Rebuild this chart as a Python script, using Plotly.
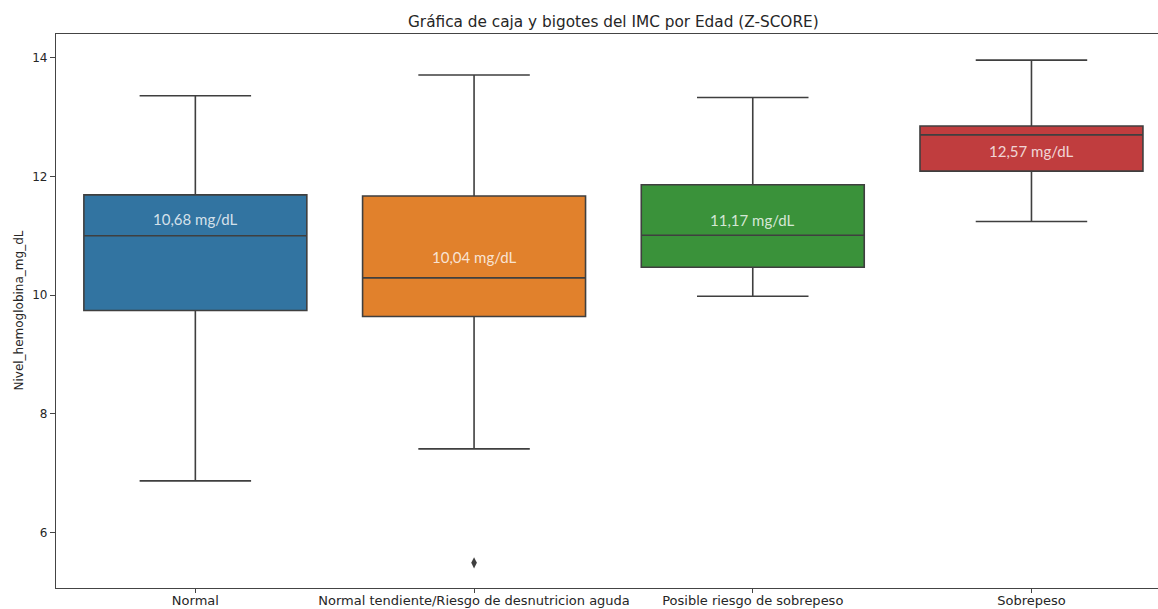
import plotly.graph_objects as go

categories = ["Normal", "Normal tendiente/Riesgo de desnutricion aguda",
              "Posible riesgo de sobrepeso", "Sobrepeso"]
lower_whisker = [6.87, 7.41, 9.98, 11.24]
q1 = [9.74, 9.64, 10.47, 12.09]
median = [11.00, 10.29, 11.01, 12.70]
q3 = [11.69, 11.67, 11.86, 12.85]
upper_whisker = [13.36, 13.71, 13.33, 13.96]
means = [10.68, 10.04, 11.17, 12.57]
mean_labels = ["10,68 mg/dL", "10,04 mg/dL", "11,17 mg/dL", "12,57 mg/dL"]
label_y = [11.28, 10.65, 11.26, 12.43]
outlier_cat = ["Normal tendiente/Riesgo de desnutricion aguda"]
outlier_val = [5.49]
colors = ["#3274a1", "#e1812c", "#3a923a", "#c03d3e"]

line_col = "#3f3f3f"

fig = go.Figure()
for i, c in enumerate(categories):
    fig.add_trace(go.Box(
        x=[c], q1=[q1[i]], median=[median[i]], q3=[q3[i]],
        lowerfence=[lower_whisker[i]], upperfence=[upper_whisker[i]],
        fillcolor=colors[i], line=dict(color=line_col, width=1.6),
        width=0.8, whiskerwidth=0.5, boxpoints=False, showlegend=False,
        hoverinfo="skip",
    ))

fig.add_trace(go.Scatter(
    x=outlier_cat, y=outlier_val, mode="markers",
    marker=dict(symbol="diamond-tall", size=8, color=line_col),
    showlegend=False, hoverinfo="skip",
))

for i, c in enumerate(categories):
    fig.add_annotation(
        x=c, y=label_y[i], xref="x", yref="y", text=mean_labels[i],
        showarrow=False, font=dict(family="Lato", size=15, color="rgba(255,255,255,0.8)"),
        xanchor="center", yanchor="middle",
    )

# title
fig.add_annotation(
    x=1.5, y=1, xref="x", yref="paper", yshift=12,
    text="Gráfica de caja y bigotes del IMC por Edad (Z-SCORE)",
    showarrow=False, xanchor="center", yanchor="middle",
    font=dict(family="DejaVu Sans", size=15.3, color="#262626"),
)
# y-axis title
fig.add_annotation(
    x=-0.034, y=0.5, xref="paper", yref="paper", textangle=-90,
    text="Nivel_hemoglobina_mg_dL", showarrow=False,
    xanchor="center", yanchor="middle",
    font=dict(family="DejaVu Sans", size=12, color="#262626"),
)

fig.update_layout(
    width=1158, height=609,
    margin=dict(l=56, r=0, t=34, b=21, autoexpand=False),
    paper_bgcolor="white", plot_bgcolor="white",
    boxmode="overlay",
    font=dict(family="DejaVu Sans", color="#262626"),
)
fig.update_xaxes(
    type="category", categoryorder="array", categoryarray=categories,
    range=[-0.5, 3.454], showgrid=False, zeroline=False, automargin=False,
    showline=True, linecolor="#444", linewidth=1.2, mirror=True,
    ticks="outside", ticklen=4, tickcolor="#444", tickwidth=1,
    ticklabelstandoff=-4,
    tickfont=dict(family="DejaVu Sans", size=13, color="#262626"),
)
fig.update_yaxes(
    range=[5.065, 14.40], tickvals=[6, 8, 10, 12, 14], automargin=False,
    showgrid=False, zeroline=False,
    showline=True, linecolor="#444", linewidth=1.2,
    ticks="outside", ticklen=5, tickcolor="#444", tickwidth=1,
    tickfont=dict(family="DejaVu Sans", size=12, color="#262626"),
)

fig.write_html("out.html")
